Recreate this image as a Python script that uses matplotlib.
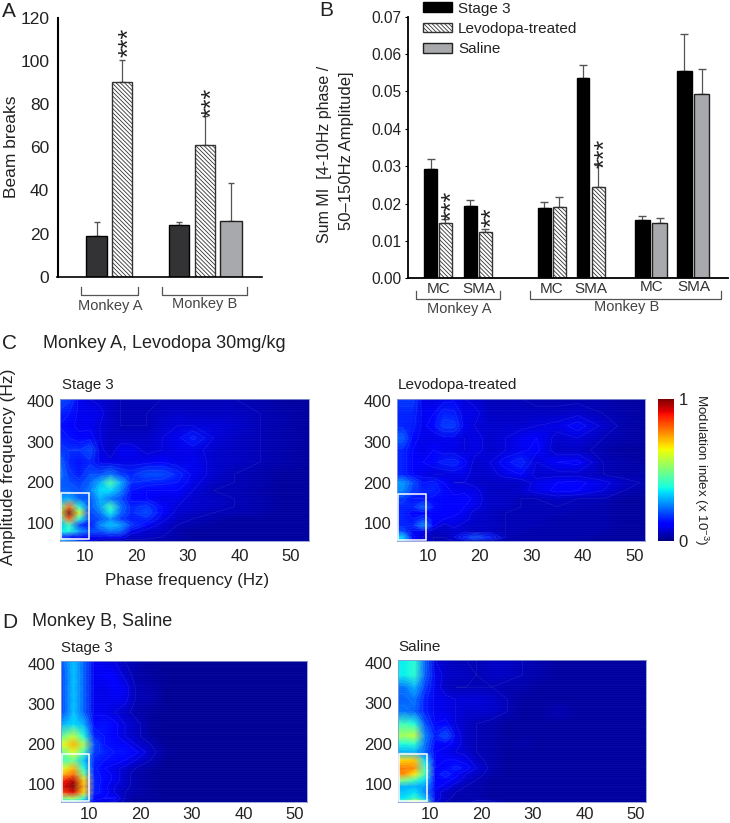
import numpy as np
import matplotlib
matplotlib.use("Agg")
import matplotlib.pyplot as plt
from matplotlib.patches import Rectangle, Patch

plt.rcParams['font.family'] = ['Liberation Sans', 'DejaVu Sans']
plt.rcParams['hatch.linewidth'] = 0.6
plt.rcParams['mathtext.default'] = 'regular'

W, H = 730, 823

# ---------- Panel A data ----------
a_values = [19, 90, 24, 61, 26]
a_tops = [25.5, 100.5, 25.5, 74.5, 43.5]
a_kinds = ['stage', 'levo', 'stage', 'levo', 'saline']
a_ticks = [0, 20, 40, 60, 80, 100, 120]

# ---------- Panel B data ----------
b_values = [.0293, .0147, .0193, .0125, .0188, .0192, .0537, .0245, .0156, .0149, .0555, .0492]
b_tops = [.0320, .0159, .0210, .0133, .0204, .0218, .0570, .0303, .0167, .0161, .0655, .0560]
b_kinds = ['stage', 'levo', 'stage', 'levo', 'stage', 'levo', 'stage', 'levo', 'stage', 'saline', 'stage', 'saline']
b_ticks = [0.00, 0.01, 0.02, 0.03, 0.04, 0.05, 0.06, 0.07]

# ---------- Heat map data (modulation index) ----------
freq_phase = [5, 7, 9, 11, 13, 15, 17, 19, 22, 25, 28, 31, 35, 39, 44, 48, 54]
freq_amp = [55, 65, 80, 95, 110, 125, 140, 160, 180, 200, 220, 250, 280, 310, 340, 370, 407]

mi_c_stage3 = [
    [.35, .30, .20, .10, .05, .04, .04, .04, .04, .04, .03, .03, .03, .03, .03, .03, .03],
    [.20, .12, .10, .10, .10, .10, .10, .06, .06, .05, .04, .03, .03, .03, .03, .03, .03],
    [.35, .38, .28, .20, .20, .24, .22, .10, .07, .06, .04, .03, .03, .03, .03, .03, .03],
    [.30, .42, .18, .12, .26, .32, .28, .18, .11, .07, .05, .04, .03, .03, .03, .03, .03],
    [.38, .82, .38, .18, .20, .26, .18, .15, .16, .09, .06, .05, .04, .03, .03, .03, .03],
    [.60, 1.0, .60, .18, .24, .36, .22, .16, .20, .11, .07, .06, .05, .05, .04, .03, .03],
    [.42, .80, .38, .20, .28, .42, .24, .16, .18, .11, .08, .07, .06, .05, .04, .03, .03],
    [.28, .30, .22, .20, .30, .24, .20, .13, .11, .09, .09, .07, .06, .05, .04, .03, .03],
    [.22, .22, .20, .24, .34, .34, .26, .14, .11, .11, .11, .08, .05, .05, .04, .03, .03],
    [.22, .20, .18, .22, .30, .44, .30, .17, .16, .15, .14, .09, .06, .05, .04, .03, .03],
    [.26, .18, .15, .20, .20, .24, .18, .16, .20, .20, .16, .10, .07, .05, .04, .03, .03],
    [.24, .16, .14, .16, .10, .09, .09, .09, .10, .11, .09, .10, .07, .06, .05, .04, .03],
    [.18, .17, .17, .20, .09, .06, .10, .10, .07, .08, .09, .09, .07, .06, .05, .04, .03],
    [.16, .14, .12, .13, .08, .06, .06, .06, .06, .08, .10, .15, .08, .06, .05, .04, .03],
    [.14, .12, .10, .10, .08, .06, .05, .05, .05, .07, .08, .08, .08, .07, .05, .04, .03],
    [.16, .14, .10, .10, .09, .06, .05, .05, .05, .06, .07, .06, .06, .06, .05, .04, .03],
    [.20, .18, .10, .08, .07, .06, .05, .05, .05, .05, .05, .05, .05, .05, .04, .03, .03],
]
mi_c_levodopa = [
    [.30, .10, .08, .05, .05, .05, .05, .05, .04, .04, .04, .04, .04, .03, .03, .03, .03],
    [.34, .12, .08, .05, .05, .08, .15, .20, .15, .05, .04, .04, .04, .04, .03, .03, .03],
    [.20, .10, .10, .06, .06, .07, .07, .06, .06, .05, .05, .04, .04, .04, .04, .03, .03],
    [.16, .16, .26, .12, .07, .09, .07, .06, .06, .05, .05, .05, .04, .04, .04, .03, .03],
    [.16, .14, .18, .12, .11, .10, .09, .07, .06, .05, .05, .05, .04, .04, .04, .03, .03],
    [.16, .12, .12, .12, .12, .12, .10, .07, .06, .05, .05, .05, .05, .04, .04, .03, .03],
    [.16, .16, .22, .14, .12, .12, .11, .09, .06, .06, .05, .05, .05, .05, .04, .03, .03],
    [.18, .14, .14, .13, .12, .12, .13, .10, .06, .06, .05, .05, .06, .05, .05, .03, .03],
    [.26, .18, .16, .16, .13, .10, .10, .09, .06, .06, .07, .09, .12, .11, .08, .05, .03],
    [.28, .20, .14, .15, .11, .08, .08, .07, .06, .06, .06, .09, .11, .12, .09, .06, .04],
    [.16, .11, .09, .08, .08, .09, .09, .07, .07, .09, .11, .07, .07, .07, .05, .04, .04],
    [.16, .11, .11, .13, .15, .16, .12, .07, .08, .13, .16, .08, .11, .12, .05, .04, .03],
    [.16, .11, .09, .11, .09, .09, .08, .09, .07, .08, .10, .12, .06, .06, .04, .03, .03],
    [.22, .13, .09, .09, .10, .10, .08, .09, .07, .08, .10, .11, .07, .08, .05, .04, .03],
    [.16, .15, .10, .13, .18, .18, .10, .08, .07, .07, .07, .08, .09, .13, .07, .04, .03],
    [.16, .16, .10, .11, .16, .15, .09, .09, .06, .06, .06, .06, .06, .07, .05, .04, .03],
    [.18, .18, .09, .08, .09, .10, .08, .07, .05, .05, .05, .04, .04, .04, .04, .03, .03],
]
mi_d_stage3 = [
    [.32, .35, .24, .10, .08, .07, .04, .03, .03, .02, .02, .02, .02, .02, .02, .02, .02],
    [.50, .55, .40, .12, .11, .12, .05, .03, .03, .02, .02, .02, .02, .02, .02, .02, .02],
    [.85, .92, .68, .15, .13, .08, .05, .04, .03, .02, .02, .02, .02, .02, .02, .02, .02],
    [.92, 1.0, .72, .16, .12, .08, .06, .04, .03, .02, .02, .02, .02, .02, .02, .02, .02],
    [.88, .95, .68, .16, .13, .10, .06, .04, .03, .02, .02, .02, .02, .02, .02, .02, .02],
    [.72, .80, .50, .15, .13, .10, .06, .04, .03, .02, .02, .02, .02, .02, .02, .02, .02],
    [.62, .72, .38, .15, .11, .09, .07, .05, .03, .02, .02, .02, .02, .02, .02, .02, .02],
    [.42, .48, .32, .16, .14, .13, .11, .08, .05, .02, .02, .02, .02, .02, .02, .02, .02],
    [.48, .62, .42, .18, .16, .14, .14, .12, .06, .03, .02, .02, .02, .02, .02, .02, .02],
    [.62, .72, .55, .20, .14, .13, .12, .08, .05, .02, .02, .02, .02, .02, .02, .02, .02],
    [.48, .58, .38, .16, .14, .12, .08, .06, .03, .02, .02, .02, .02, .02, .02, .02, .02],
    [.30, .34, .30, .13, .14, .12, .08, .06, .03, .02, .02, .02, .02, .02, .02, .02, .02],
    [.20, .32, .22, .10, .10, .08, .06, .04, .03, .02, .02, .02, .02, .02, .02, .02, .02],
    [.20, .32, .22, .10, .09, .10, .09, .05, .04, .02, .02, .02, .02, .02, .02, .02, .02],
    [.20, .32, .22, .10, .09, .11, .10, .05, .04, .02, .02, .02, .02, .02, .02, .02, .02],
    [.20, .32, .22, .10, .11, .11, .07, .04, .03, .02, .02, .02, .02, .02, .02, .02, .02],
    [.22, .32, .22, .10, .09, .08, .05, .04, .03, .02, .02, .02, .02, .02, .02, .02, .02],
]
mi_d_saline = [
    [.45, .65, .45, .08, .05, .04, .04, .06, .06, .03, .03, .03, .03, .03, .03, .03, .03],
    [.35, .42, .32, .10, .06, .04, .04, .04, .03, .03, .03, .03, .03, .03, .03, .03, .03],
    [.32, .35, .26, .10, .06, .05, .04, .04, .03, .03, .03, .03, .03, .03, .03, .03, .03],
    [.30, .30, .28, .12, .10, .06, .05, .04, .03, .03, .03, .03, .03, .03, .03, .03, .03],
    [.50, .42, .34, .12, .12, .10, .06, .05, .03, .03, .03, .03, .03, .03, .03, .03, .03],
    [.76, .66, .42, .12, .16, .12, .08, .06, .04, .03, .03, .03, .03, .03, .03, .03, .03],
    [.78, .76, .42, .11, .12, .15, .13, .08, .04, .03, .03, .03, .03, .03, .03, .03, .03],
    [.68, .70, .34, .11, .11, .11, .09, .06, .04, .03, .03, .03, .03, .03, .03, .03, .03],
    [.30, .30, .22, .11, .10, .08, .07, .05, .04, .03, .03, .03, .03, .03, .03, .03, .03],
    [.38, .40, .24, .12, .12, .10, .06, .05, .04, .03, .04, .03, .03, .03, .03, .03, .03],
    [.55, .58, .26, .15, .20, .10, .06, .05, .04, .03, .03, .03, .03, .03, .03, .03, .03],
    [.42, .38, .20, .11, .12, .08, .06, .05, .04, .03, .03, .03, .03, .03, .03, .03, .03],
    [.24, .22, .15, .10, .09, .08, .07, .07, .07, .05, .03, .03, .05, .03, .03, .03, .03],
    [.22, .24, .15, .10, .09, .08, .08, .08, .07, .05, .03, .03, .03, .03, .03, .03, .03],
    [.24, .30, .18, .10, .06, .05, .05, .05, .05, .04, .04, .03, .03, .03, .03, .03, .03],
    [.36, .40, .22, .10, .07, .06, .06, .05, .06, .06, .05, .04, .03, .03, .03, .03, .03],
    [.36, .40, .22, .08, .06, .05, .05, .05, .06, .06, .05, .04, .03, .03, .03, .03, .03],
]
hm_xticks = [10, 20, 30, 40, 50]
hm_yticks = [100, 200, 300, 400]

# ---------- Layout (pixels) ----------
a_bar_left = [86.3, 111.7, 169.3, 194.7, 220.0]
a_bar_right = [106.7, 132.0, 189.3, 214.7, 241.7]
b_bar_left = [x / 3 + 310 for x in [343, 388, 462, 506, 684, 728, 800, 845, 975, 1027, 1101, 1153]]
b_bar_right = [x / 3 + 310 for x in [381, 425, 500, 545, 723, 767, 838, 884, 1019, 1071, 1146, 1198]]

fig = plt.figure(figsize=(W / 100, H / 100), dpi=100, facecolor='white')


def px_axes(l, t, r, b, **kw):
    return fig.add_axes([l / W, 1 - b / H, (r - l) / W, (b - t) / H], **kw)


def style(kind):
    return {
        'stage_a': dict(facecolor='#333335', edgecolor='black'),
        'stage_b': dict(facecolor='black', edgecolor='black'),
        'levo': dict(facecolor='white', edgecolor='#333333', hatch='\\' * 8),
        'saline': dict(facecolor='#a7a9ac', edgecolor='#222222'),
    }[kind]


def bars(ax, lefts, rights, vals, tops, kinds, suffix, capsize):
    for l, r, v, t, k in zip(lefts, rights, vals, tops, kinds):
        key = k + suffix if k == 'stage' else k
        ax.bar((l + r) / 2, v, width=r - l, linewidth=1.0, zorder=2, **style(key))
        ax.errorbar((l + r) / 2, v, yerr=[[0], [t - v]], color='#555555', elinewidth=0.9,
                    capsize=capsize, capthick=1.0, zorder=1)


# Panel A
ax_a = px_axes(57.5, 17.5, 262, 276.7)
ax_a.set_xlim(57.5, 262)
ax_a.set_ylim(0, 120)
bars(ax_a, a_bar_left, a_bar_right, a_values, a_tops, a_kinds, '_a', 2.3)
ax_a.set_xticks([])
ax_a.set_yticks(a_ticks)
ax_a.tick_params(axis='y', labelsize=12.5, length=0, pad=6, labelcolor='#222222')
ax_a.spines[['top', 'right']].set_visible(False)
ax_a.spines['left'].set_linewidth(1.5)
ax_a.spines['bottom'].set_linewidth(1.2)

# Panel B
ax_b = px_axes(407.7, 16.7, 728, 278.3)
ax_b.set_xlim(407.7, 728)
ax_b.set_ylim(0, 0.07)
bars(ax_b, b_bar_left, b_bar_right, b_values, b_tops, b_kinds, '_b', 3)
ax_b.set_xticks([])
ax_b.set_yticks(b_ticks)
ax_b.set_yticklabels([f'{t:.2f}' for t in b_ticks])
ax_b.tick_params(axis='y', labelsize=11.2, length=2.5, width=0.8, pad=2, labelcolor='#222222')
ax_b.spines[['top', 'right']].set_visible(False)
ax_b.spines['left'].set_linewidth(1.3)
ax_b.spines['bottom'].set_linewidth(1.3)
handles = [Patch(**style('stage_b')), Patch(**style('levo')), Patch(**style('saline'))]
ax_b.legend(handles, ['Stage 3', 'Levodopa-treated', 'Saline'], loc='upper left',
            bbox_to_anchor=(422.7 / W, 1 - 1.5 / H), bbox_transform=fig.transFigure, frameon=False,
            fontsize=11, borderpad=0, borderaxespad=0, handlelength=1.9, handleheight=0.62,
            labelspacing=0.42, handletextpad=0.42, labelcolor='#222222')


# Heat maps
def heat(l, t, r, b, xlim, ylim, grid, xpad=6):
    ax = px_axes(l, t, r, b)
    g = np.asarray(grid, dtype=float)
    # repeat the first column so the mesh reaches the left edge of each panel
    g = np.c_[g[:, 0], g]
    xs = np.r_[3.0, freq_phase]
    m = ax.pcolormesh(xs, freq_amp, g, cmap='jet', vmin=0, vmax=1, shading='gouraud',
                      rasterized=True)
    ax.contour(xs, freq_amp, g, levels=np.arange(.05, 1, .03), colors='white',
               linewidths=0.3, alpha=0.15)
    ax.hlines(np.arange(56, 407, 4.5), xlim[0], xlim[1], colors='white', linewidth=0.4, alpha=0.04)
    ax.set_xlim(*xlim)
    ax.set_ylim(*ylim)
    ax.set_xticks(hm_xticks)
    ax.set_yticks(hm_yticks)
    ax.tick_params(length=0, labelsize=12, labelcolor='#222222')
    ax.tick_params(axis='x', pad=xpad)
    ax.tick_params(axis='y', pad=4)
    for s in ax.spines.values():
        s.set_color('#8c9ad0')
        s.set_linewidth(0.6)
    return ax, m


ax_c1, _ = heat(60, 399, 308.7, 540.7, (5.25, 53.4), (56, 406), mi_c_stage3)
ax_c2, mesh = heat(396.7, 399, 644.7, 541, (3.9, 52), (56, 406), mi_c_levodopa)
ax_d1, _ = heat(60.7, 661, 306.7, 802, (4.5, 52.3), (56, 407), mi_d_stage3, xpad=3.5)
ax_d2, _ = heat(397.7, 660, 645.7, 802, (3.7, 51.9), (56, 407), mi_d_saline, xpad=3.5)

cax = px_axes(657.7, 399, 674.3, 541)
cb = fig.colorbar(mesh, cax=cax, ticks=[0, 1])
cb.outline.set_visible(False)
cb.ax.tick_params(length=0, labelsize=12, pad=3, labelcolor='#222222')

# Overlay in pixel coordinates for labels and brackets
ov = fig.add_axes([0, 0, 1, 1], zorder=10)
ov.set_xlim(0, W)
ov.set_ylim(H, 0)
ov.axis('off')
ov.patch.set_alpha(0)


def txt(x, y, s, size=12, ha='left', rot=0, color='#222222'):
    ov.text(x, y, s, fontsize=size, ha=ha, va='center', rotation=rot, color=color,
            rotation_mode='anchor' if rot == 0 else 'default')


def bracket(x0, x1, y0, y1):
    ov.plot([x0, x0, x1, x1], [y0, y1, y1, y0], color='#555555', lw=0.9)


def stars(x, y, n):
    # the asterisk sits high in its line, so the rotated run is moved right by 7 px
    ov.text(x + 7, y, '*' * n, fontsize=18, rotation=90, ha='center', va='center', color='#222222')


for x, y, s in [(2, 11, 'A'), (319, 10, 'B'), (2, 343, 'C'), (2, 622, 'D')]:
    txt(x, y, s, size=15)

txt(12, 147, 'Beam breaks', size=12.5, ha='center', rot=90)
bracket(80.7, 138.3, 286.7, 295)
bracket(161.7, 247.3, 286.7, 295)
txt(110, 306, 'Monkey A', size=10.5, ha='center', color='#444444')
txt(205, 304, 'Monkey B', size=10.5, ha='center', color='#444444')
stars(122, 42, 3)
stars(205, 102, 3)

txt(325, 154, 'Sum MI  [4-10Hz phase /', size=11.5, ha='center', rot=90)
txt(346, 151, '50–150Hz Amplitude]', size=12, ha='center', rot=90)
bracket(415.7, 500.3, 291, 299)
bracket(530.3, 721, 291, 299)
for x, y, s in [(438.7, 289, 'MC'), (479, 289, 'SMA'), (552, 289, 'MC'), (591, 289, 'SMA'),
                (651.7, 287, 'MC'), (693.7, 287, 'SMA')]:
    txt(x, y, s, size=11, ha='center', color='#333333')
txt(459, 309, 'Monkey A', size=10.5, ha='center', color='#444444')
txt(626.7, 307, 'Monkey B', size=10.5, ha='center', color='#444444')
stars(445, 205, 3)
stars(485, 217, 2)
stars(598, 153, 3)

txt(43, 343, 'Monkey A, Levodopa 30mg/kg', size=13)
txt(32, 622, 'Monkey B, Saline', size=13)
txt(62, 385, 'Stage 3', size=10.8)
txt(398, 385, 'Levodopa-treated', size=11)
txt(61, 648, 'Stage 3', size=10.8)
txt(398, 647, 'Saline', size=11)
txt(9, 467, 'Amplitude frequency (Hz)', size=12.5, ha='center', rot=90)
txt(187, 580, 'Phase frequency (Hz)', size=12.2, ha='center')
ov.text(701, 470, 'Modulation index (x 10$^{-3}$)', fontsize=9.6, rotation=270, ha='center',
        va='center', color='#222222')

for x0, x1, y0, y1 in [(61, 89.3, 493.3, 539.3), (398.3, 426, 494.3, 540),
                       (61.7, 89.3, 754, 800.7), (399.3, 427.3, 754, 800.7)]:
    ov.add_patch(Rectangle((x0, y0), x1 - x0, y1 - y0, fill=False, ec='white', lw=1.1))

fig.savefig('out.png', dpi=100)
